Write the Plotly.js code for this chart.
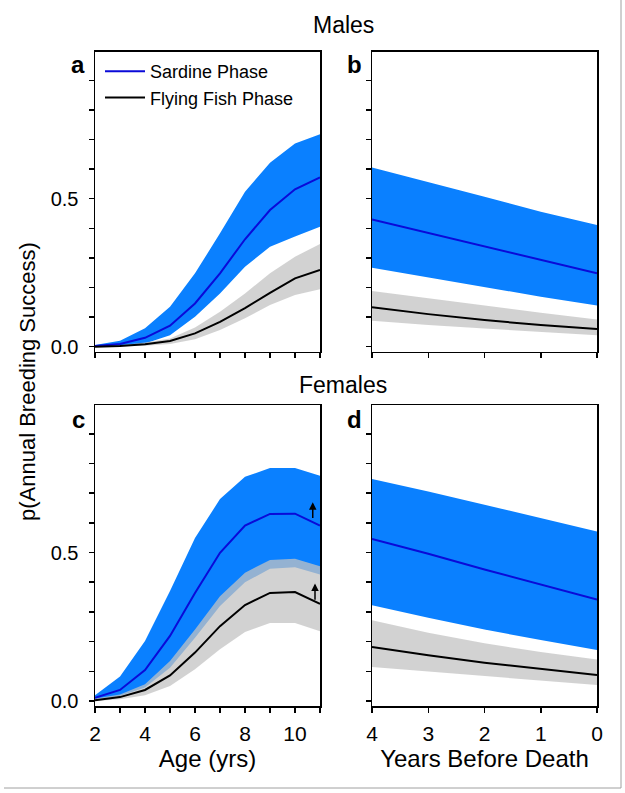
<!DOCTYPE html>
<html>
<head>
<meta charset="utf-8">
<script src="https://cdn.plot.ly/plotly-3.0.1.min.js"></script>
<style>
html,body{margin:0;padding:0;background:#fff;}
#chart{width:625px;height:793px;}
</style>
</head>
<body>
<div id="chart"></div>
<script>
// ---- data ----
const ageX = [2,3,4,5,6,7,8,9,10,11];
const ybdX = [4,3,2,1,0];

// Males, by age (panel a)
const maleSardineMean  = [0.002,0.009,0.030,0.071,0.146,0.248,0.363,0.462,0.532,0.572];
const maleSardineUpper = [0.006,0.020,0.062,0.135,0.248,0.383,0.524,0.622,0.687,0.718];
const maleSardineLower = [0.000,0.002,0.011,0.039,0.101,0.180,0.270,0.338,0.372,0.405];
const maleFlyingMean   = [0.000,0.002,0.008,0.019,0.045,0.084,0.130,0.182,0.231,0.259];
const maleFlyingUpper  = [0.001,0.005,0.014,0.028,0.065,0.118,0.180,0.248,0.304,0.347];
const maleFlyingLower  = [0.000,0.001,0.003,0.009,0.025,0.056,0.096,0.141,0.175,0.194];

// Males, years before death (panel b)
const maleSardineMeanB  = [0.430,0.385,0.338,0.293,0.248];
const maleSardineUpperB = [0.606,0.557,0.507,0.456,0.411];
const maleSardineLowerB = [0.267,0.234,0.203,0.169,0.139];
const maleFlyingMeanB   = [0.133,0.110,0.090,0.073,0.060];
const maleFlyingUpperB  = [0.188,0.163,0.139,0.115,0.092];
const maleFlyingLowerB  = [0.088,0.073,0.061,0.050,0.039];

// Females, by age (panel c)
const femSardineMean  = [0.011,0.037,0.104,0.219,0.364,0.499,0.591,0.630,0.631,0.591];
const femSardineUpper = [0.019,0.082,0.202,0.370,0.549,0.680,0.755,0.785,0.785,0.759];
const femSardineLower = [0.006,0.017,0.045,0.112,0.213,0.320,0.400,0.445,0.450,0.426];
const femFlyingMean   = [0.002,0.013,0.037,0.086,0.163,0.252,0.323,0.364,0.367,0.327];
const femFlyingUpper  = [0.008,0.022,0.056,0.135,0.241,0.353,0.432,0.475,0.479,0.454];
const femFlyingLower  = [0.000,0.006,0.019,0.050,0.107,0.174,0.232,0.263,0.263,0.235];

// Females, years before death (panel d)
const femSardineMeanB  = [0.546,0.496,0.443,0.392,0.342];
const femSardineUpperB = [0.748,0.706,0.661,0.617,0.571];
const femSardineLowerB = [0.322,0.280,0.241,0.205,0.172];
const femFlyingMeanB   = [0.182,0.154,0.129,0.107,0.087];
const femFlyingUpperB  = [0.272,0.230,0.194,0.165,0.140];
const femFlyingLowerB  = [0.114,0.099,0.084,0.068,0.054];

// arrows in panel c (age, tail value, head value)
const arrowAge  = [10.71, 10.8];
const arrowTail = [0.611, 0.336];
const arrowHead = [0.669, 0.396];

const yTickVals = [0,0.1,0.2,0.3,0.4,0.5,0.6,0.7,0.8,0.9];
const yTickText = ['0.0','','','','','0.5','','','',''];
const ageTickVals = [2,3,4,5,6,7,8,9,10,11];
const ageTickText = ['2','','4','','6','','8','','10',''];
const ybdTickVals = [4,3,2,1,0];
const ybdTickText = ['4','3','2','1','0'];

const seriesNames = ['Sardine Phase','Flying Fish Phase'];

// ---- styles ----
const BLUE_FILL = '#0a80ff';
const BLUE_LINE = '#0a0ad8';
const GRAY_FILL = 'rgba(195,195,195,0.75)';
const FONT = 'Liberation Sans, Arial, sans-serif';

const traces = [];
function addPanel(x, sL, sU, sM, fL, fU, fM, xa, ya, legend){
  traces.push({x:x, y:sL, xaxis:xa, yaxis:ya, mode:'lines', line:{width:0, color:BLUE_FILL}, showlegend:false, hoverinfo:'skip'});
  traces.push({x:x, y:sU, xaxis:xa, yaxis:ya, mode:'lines', line:{width:0, color:BLUE_FILL}, fill:'tonexty', fillcolor:BLUE_FILL, showlegend:false, hoverinfo:'skip'});
  traces.push({x:x, y:fL, xaxis:xa, yaxis:ya, mode:'lines', line:{width:0, color:GRAY_FILL}, showlegend:false, hoverinfo:'skip'});
  traces.push({x:x, y:fU, xaxis:xa, yaxis:ya, mode:'lines', line:{width:0, color:GRAY_FILL}, fill:'tonexty', fillcolor:GRAY_FILL, showlegend:false, hoverinfo:'skip'});
  traces.push({x:x, y:sM, xaxis:xa, yaxis:ya, mode:'lines', line:{width:2, color:BLUE_LINE}, name:seriesNames[0], showlegend:legend});
  traces.push({x:x, y:fM, xaxis:xa, yaxis:ya, mode:'lines', line:{width:2, color:'#000'}, name:seriesNames[1], showlegend:legend});
}
addPanel(ageX, maleSardineLower, maleSardineUpper, maleSardineMean, maleFlyingLower, maleFlyingUpper, maleFlyingMean, 'x', 'y', true);
addPanel(ybdX, maleSardineLowerB, maleSardineUpperB, maleSardineMeanB, maleFlyingLowerB, maleFlyingUpperB, maleFlyingMeanB, 'x2', 'y2', false);
addPanel(ageX, femSardineLower, femSardineUpper, femSardineMean, femFlyingLower, femFlyingUpper, femFlyingMean, 'x3', 'y3', false);
addPanel(ybdX, femSardineLowerB, femSardineUpperB, femSardineMeanB, femFlyingLowerB, femFlyingUpperB, femFlyingMeanB, 'x4', 'y4', false);

const W = 625, H = 793;
const px = v => v / W;
const py = v => 1 - v / H;

const YR = [-0.017, 0.997];
function xAxis(dom, anchor, range, tv, tt, showLabels, title){
  const a = {domain:dom, anchor:anchor, range:range, showgrid:false, zeroline:false,
    showline:true, mirror:true, linecolor:'#000', linewidth:1.5,
    ticks:'outside', ticklen:5, tickwidth:1.5, tickcolor:'#000',
    tickvals:tv, ticktext:tt, showticklabels:showLabels, ticklabelstandoff:3,
    tickfont:{family:FONT, size:21, color:'#000'}};
  if (title) a.title = {text:title, font:{family:FONT, size:24, color:'#000'}, standoff:0};
  return a;
}
function yAxis(dom, anchor, showLabels){
  return {domain:dom, anchor:anchor, range:YR, showgrid:false, zeroline:false,
    showline:true, mirror:true, linecolor:'#000', linewidth:1.5,
    ticks:'outside', ticklen:5, tickwidth:1.5, tickcolor:'#000',
    tickvals:yTickVals, ticktext:yTickText, showticklabels:showLabels, ticklabelstandoff:6,
    tickfont:{family:FONT, size:20, color:'#000'}};
}

const xA = [px(95), px(320)], xB = [px(372), px(597)];
const yTop = [py(351.7), py(51.7)], yBot = [py(706), py(405)];

const annotations = [
  {text:'Males', x:px(343), y:py(25), xref:'paper', yref:'paper', showarrow:false, font:{family:FONT, size:23, color:'#000'}, xanchor:'center', yanchor:'middle'},
  {text:'Females', x:px(343), y:py(385), xref:'paper', yref:'paper', showarrow:false, font:{family:FONT, size:23, color:'#000'}, xanchor:'center', yanchor:'middle'},
  {text:'p(Annual Breeding Success)', x:px(27), y:py(382), xref:'paper', yref:'paper', showarrow:false, textangle:-90, font:{family:FONT, size:22, color:'#000'}, xanchor:'center', yanchor:'middle'},
  {text:'<b>a</b>', x:px(78), y:py(65), xref:'paper', yref:'paper', showarrow:false, font:{family:FONT, size:24, color:'#000'}, xanchor:'center', yanchor:'middle'},
  {text:'<b>b</b>', x:px(354), y:py(65), xref:'paper', yref:'paper', showarrow:false, font:{family:FONT, size:24, color:'#000'}, xanchor:'center', yanchor:'middle'},
  {text:'<b>c</b>', x:px(78), y:py(419), xref:'paper', yref:'paper', showarrow:false, font:{family:FONT, size:24, color:'#000'}, xanchor:'center', yanchor:'middle'},
  {text:'<b>d</b>', x:px(354), y:py(419), xref:'paper', yref:'paper', showarrow:false, font:{family:FONT, size:24, color:'#000'}, xanchor:'center', yanchor:'middle'}
];
for (let i = 0; i < arrowAge.length; i++) {
  annotations.push({x:arrowAge[i], y:arrowHead[i], ax:arrowAge[i], ay:arrowTail[i],
    xref:'x3', yref:'y3', axref:'x3', ayref:'y3', text:'', showarrow:true,
    arrowhead:2, arrowsize:1, arrowwidth:1.5, arrowcolor:'#000'});
}

const layout = {
  width:W, height:H, margin:{l:0, r:0, t:0, b:0},
  paper_bgcolor:'#fff', plot_bgcolor:'#fff',
  font:{family:FONT, color:'#000'},
  showlegend:true,
  legend:{x:px(100), y:py(53), xanchor:'left', yanchor:'top', bgcolor:'rgba(0,0,0,0)',
    traceorder:'normal', font:{family:FONT, size:18, color:'#000'}, itemwidth:40, tracegroupgap:0},
  xaxis: xAxis(xA, 'y', [2,11], ageTickVals, ageTickText, false),
  yaxis: yAxis(yTop, 'x', true),
  xaxis2: xAxis(xB, 'y2', [4,0], ybdTickVals, ybdTickText, false),
  yaxis2: yAxis(yTop, 'x2', false),
  xaxis3: xAxis(xA, 'y3', [2,11], ageTickVals, ageTickText, true, 'Age (yrs)'),
  yaxis3: yAxis(yBot, 'x3', true),
  xaxis4: xAxis(xB, 'y4', [4,0], ybdTickVals, ybdTickText, true, 'Years Before Death'),
  yaxis4: yAxis(yBot, 'x4', false),
  annotations: annotations,
  shapes: [
    {type:'line', xref:'paper', yref:'paper', x0:px(621), x1:px(621), y0:1, y1:py(788), line:{color:'#a0a0a0', width:1}},
    {type:'line', xref:'paper', yref:'paper', x0:px(4), x1:px(621), y0:py(788), y1:py(788), line:{color:'#a0a0a0', width:1}}
  ]
};

Plotly.newPlot('chart', traces, layout, {staticPlot:true, displayModeBar:false});
</script>
</body>
</html>
